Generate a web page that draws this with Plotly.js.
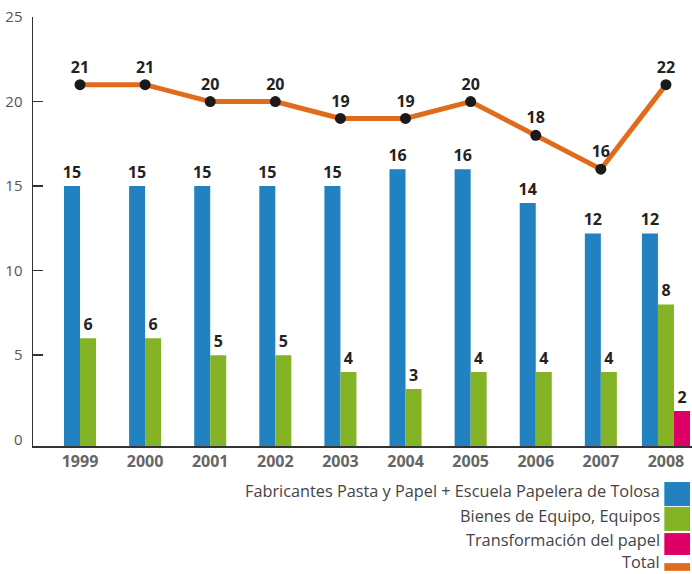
<!DOCTYPE html>
<html><head><meta charset="utf-8">
<script src="https://cdn.plot.ly/plotly-3.0.1.min.js"></script>
<style>html,body{margin:0;padding:0;background:#fff}#chart{width:692px;height:574px}</style>
</head><body><div id="chart"></div>
<script>
const years = ['1999','2000','2001','2002','2003','2004','2005','2006','2007','2008'];
const fabricantes = [15, 15, 15, 15, 15, 16, 16, 14, 12.2, 12.2];
const fabricantesLabels = ['15','15','15','15','15','16','16','14','12','12'];
const bienes = [6, 6, 5, 5, 4, 3, 4, 4, 4, 8];
const bienesLabels = ['6','6','5','5','4','3','4','4','4','8'];
const transformacion = [null, null, null, null, null, null, null, null, null, 1.7];
const transformacionLabels = ['','','','','','','','','','2'];
const total = [21, 21, 20, 20, 19, 19, 20, 18, 16, 21];
const totalLabels = ['21','21','20','20','19','19','20','18','16','22'];
const seriesNames = ['Fabricantes Pasta y Papel + Escuela Papelera de Tolosa','Bienes de Equipo, Equipos','Transformación del papel','Total'];
const yTickVals = [0, 5, 10, 15, 20, 25];

const colors = ['#2181c1', '#84b325', '#de0067', '#e06b1a'];
const FONT = 'Open Sans, Noto Sans, sans-serif';
const yMin = -0.37;
const barW = 0.246;
const idx = years.map((_, i) => i);

const barSeries = [fabricantes, bienes, transformacion];
const barLabels = [fabricantesLabels, bienesLabels, transformacionLabels];
const offsets = barSeries.map(() => []);
idx.forEach(i => {
  const present = barSeries.map((s, k) => s[i] != null ? k : -1).filter(k => k >= 0);
  const n = present.length;
  present.forEach((k, j) => { offsets[k][i] = -n * barW / 2 + j * barW; });
  barSeries.forEach((s, k) => { if (offsets[k][i] === undefined) offsets[k][i] = 0; });
});

const traces = barSeries.map((s, k) => ({
  type: 'bar',
  x: idx,
  y: s.map(v => v == null ? null : v - yMin),
  base: yMin,
  offset: offsets[k],
  width: barW,
  marker: {color: colors[k], line: {width: 0}},
  text: barLabels[k],
  textposition: 'outside',
  constraintext: 'none',
  outsidetextfont: {family: FONT, size: 16, color: '#222', weight: 700},
  cliponaxis: false,
  hoverinfo: 'skip',
  showlegend: false
}));

traces.push({
  type: 'scatter',
  mode: 'lines+markers+text',
  x: idx,
  y: total,
  text: totalLabels,
  textposition: 'top center',
  textfont: {family: FONT, size: 16, color: '#222', weight: 700},
  line: {color: colors[3], width: 5},
  marker: {color: '#1a1a1a', size: 11},
  cliponaxis: false,
  hoverinfo: 'skip',
  showlegend: false
});

// invisible trace carrying the tick-mark axis
traces.push({type: 'scatter', x: [], y: [], yaxis: 'y2', hoverinfo: 'skip', showlegend: false});

const legendRows = [
  {y0: -0.084, y1: -0.140, ty: -0.1049},
  {y0: -0.142, y1: -0.198, ty: -0.1632},
  {y0: -0.203, y1: -0.254, ty: -0.2191},
  {y0: -0.273, y1: -0.291, ty: -0.2704}
];
const shapes = legendRows.map((r, k) => ({
  type: 'rect', xref: 'paper', yref: 'paper',
  x0: 0.958, x1: 0.997, y0: r.y0, y1: r.y1,
  fillcolor: colors[k], line: {width: 0}
}));
const annotations = legendRows.map((r, k) => ({
  xref: 'paper', yref: 'paper', x: 0.953, y: r.ty,
  xanchor: 'right', yanchor: 'middle', showarrow: false, borderpad: 0,
  text: seriesNames[k],
  font: {family: FONT, size: 16.3, color: '#444'}
}));

const layout = {
  width: 692, height: 574,
  margin: {l: 33, r: 0, t: 17, b: 128},
  paper_bgcolor: '#fff', plot_bgcolor: '#fff',
  barmode: 'overlay',
  xaxis: {
    range: [-0.722, 9.4],
    tickvals: idx, ticktext: years,
    tickfont: {family: FONT, size: 16, color: '#666', weight: 700},
    ticks: '', showgrid: false, zeroline: false,
    showline: true, linecolor: '#333', linewidth: 1.5,
    ticklabelstandoff: 0,
    fixedrange: true
  },
  yaxis: {
    range: [yMin, 25],
    tickvals: yTickVals,
    tickfont: {family: FONT, size: 15, color: '#555'},
    ticks: '',
    showgrid: false, zeroline: false,
    showline: true, linecolor: '#333', linewidth: 1.5,
    ticklabelstandoff: 6,
    fixedrange: true
  },
  yaxis2: {
    overlaying: 'y', side: 'left',
    range: [yMin, 25],
    tickvals: yTickVals.filter(v => v > 0),
    ticks: 'inside', ticklen: 10, tickwidth: 1.5, tickcolor: '#333',
    showticklabels: false, showgrid: false, zeroline: false, showline: false,
    fixedrange: true
  },
  shapes: shapes,
  annotations: annotations,
  font: {family: FONT}
};

Plotly.newPlot('chart', traces, layout, {displayModeBar: false, staticPlot: true});
</script>
</body></html>
